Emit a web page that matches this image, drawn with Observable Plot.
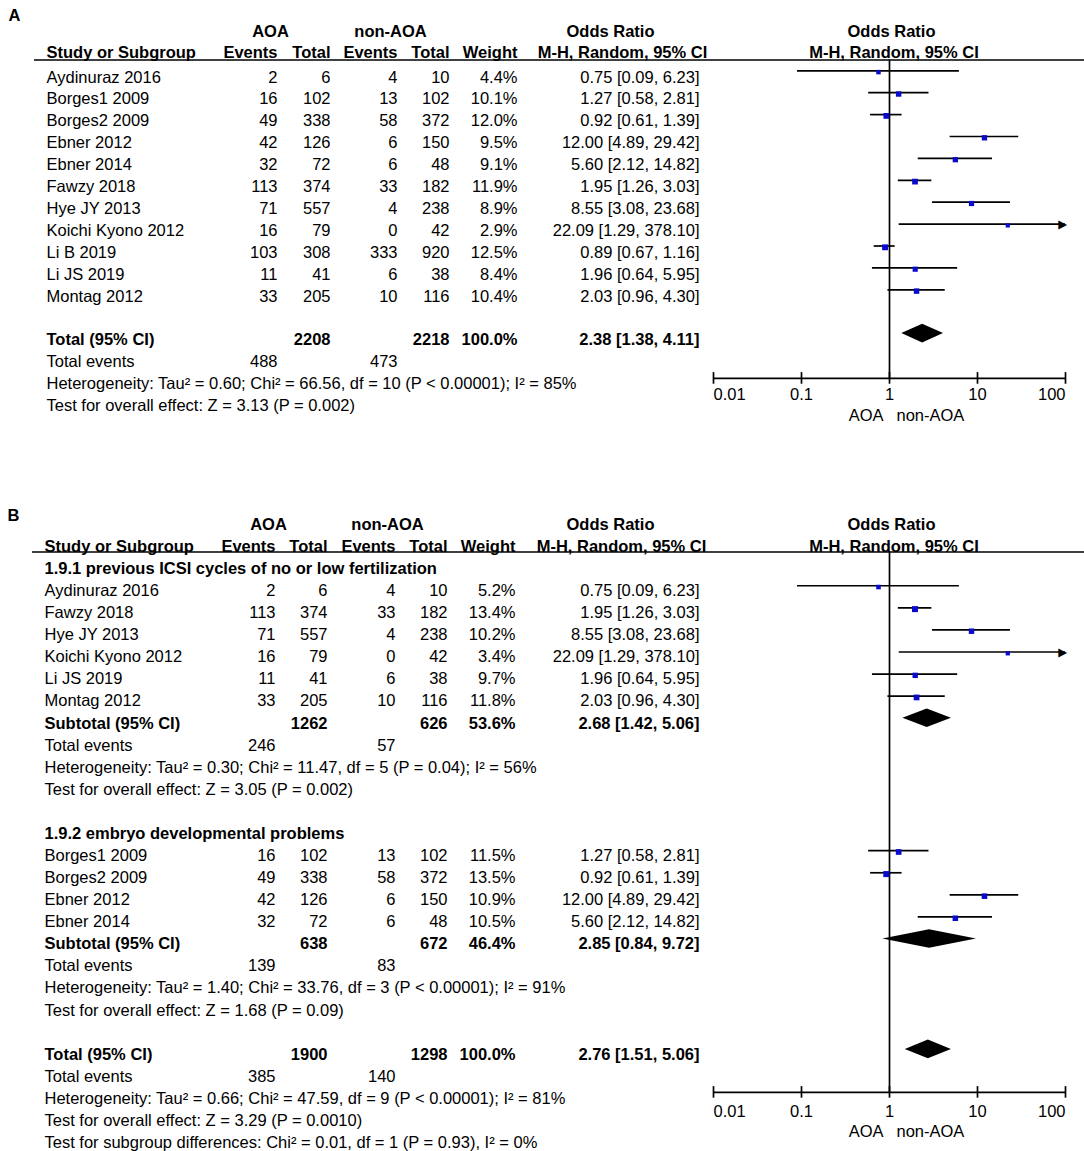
<!DOCTYPE html>
<html><head><meta charset="utf-8">
<script src="https://cdn.jsdelivr.net/npm/d3@7"></script>
<script src="https://cdn.jsdelivr.net/npm/@observablehq/plot@0.6"></script>
<style>
html,body{margin:0;padding:0;background:#fff;}
#fig{position:relative;width:1084px;height:1151px;overflow:hidden;background:#fff;}
#fig > div{position:absolute;left:0;width:1084px;}
#fig svg{position:absolute;left:0;top:0;max-width:none;}
</style></head><body>
<div id="fig"><div id="pa" style="top:0;height:492px"></div><div id="pb" style="top:492px;height:659px"></div></div>
<script>
// ================= DATA =================
// ---- Panel A ----
const panelLabels = ["A", "B"];
const studyA = ["Aydinuraz 2016","Borges1 2009","Borges2 2009","Ebner 2012","Ebner 2014","Fawzy 2018","Hye JY 2013","Koichi Kyono 2012","Li B 2019","Li JS 2019","Montag 2012"];
const eventsAOA_A = [2,16,49,42,32,113,71,16,103,11,33];
const totalAOA_A  = [6,102,338,126,72,374,557,79,308,41,205];
const eventsNon_A = [4,13,58,6,6,33,4,0,333,6,10];
const totalNon_A  = [10,102,372,150,48,182,238,42,920,38,116];
const weightA     = [4.4,10.1,12.0,9.5,9.1,11.9,8.9,2.9,12.5,8.4,10.4];
const orA         = [0.75,1.27,0.92,12.00,5.60,1.95,8.55,22.09,0.89,1.96,2.03];
const loA         = [0.09,0.58,0.61,4.89,2.12,1.26,3.08,1.29,0.67,0.64,0.96];
const hiA         = [6.23,2.81,1.39,29.42,14.82,3.03,23.68,378.10,1.16,5.95,4.30];
const totalA        = [2208, 2218];
const totalWeightA  = 100.0;
const totalOrA      = [2.38, 1.38, 4.11];
const totalEventsA  = [488, 473];
const hetA  = "Heterogeneity: Tau² = 0.60; Chi² = 66.56, df = 10 (P < 0.00001); I² = 85%";
const testA = "Test for overall effect: Z = 3.13 (P = 0.002)";

// ---- Panel B, subgroup 1.9.1 ----
const subgroupNamesB = ["1.9.1 previous ICSI cycles of no or low fertilization", "1.9.2 embryo developmental problems"];
const studyB1 = ["Aydinuraz 2016","Fawzy 2018","Hye JY 2013","Koichi Kyono 2012","Li JS 2019","Montag 2012"];
const eventsAOA_B1 = [2,113,71,16,11,33];
const totalAOA_B1  = [6,374,557,79,41,205];
const eventsNon_B1 = [4,33,4,0,6,10];
const totalNon_B1  = [10,182,238,42,38,116];
const weightB1     = [5.2,13.4,10.2,3.4,9.7,11.8];
const orB1         = [0.75,1.95,8.55,22.09,1.96,2.03];
const loB1         = [0.09,1.26,3.08,1.29,0.64,0.96];
const hiB1         = [6.23,3.03,23.68,378.10,5.95,4.30];
const subTotB1 = [1262, 626];
const subWeightB1 = 53.6;
const subOrB1 = [2.68, 1.42, 5.06];
const subEventsB1 = [246, 57];
const hetB1  = "Heterogeneity: Tau² = 0.30; Chi² = 11.47, df = 5 (P = 0.04); I² = 56%";
const testB1 = "Test for overall effect: Z = 3.05 (P = 0.002)";
// ---- Panel B, subgroup 1.9.2 ----
const studyB2 = ["Borges1 2009","Borges2 2009","Ebner 2012","Ebner 2014"];
const eventsAOA_B2 = [16,49,42,32];
const totalAOA_B2  = [102,338,126,72];
const eventsNon_B2 = [13,58,6,6];
const totalNon_B2  = [102,372,150,48];
const weightB2     = [11.5,13.5,10.9,10.5];
const orB2         = [1.27,0.92,12.00,5.60];
const loB2         = [0.58,0.61,4.89,2.12];
const hiB2         = [2.81,1.39,29.42,14.82];
const subTotB2 = [638, 672];
const subWeightB2 = 46.4;
const subOrB2 = [2.85, 0.84, 9.72];
const subEventsB2 = [139, 83];
const hetB2  = "Heterogeneity: Tau² = 1.40; Chi² = 33.76, df = 3 (P < 0.00001); I² = 91%";
const testB2 = "Test for overall effect: Z = 1.68 (P = 0.09)";
// ---- Panel B, overall ----
const totalB = [1900, 1298];
const totalWeightB = 100.0;
const totalOrB = [2.76, 1.51, 5.06];
const totalEventsB = [385, 140];
const hetB  = "Heterogeneity: Tau² = 0.66; Chi² = 47.59, df = 9 (P < 0.00001); I² = 81%";
const testB = "Test for overall effect: Z = 3.29 (P = 0.0010)";
const subgroupTestB = "Test for subgroup differences: Chi² = 0.01, df = 1 (P = 0.93), I² = 0%";

// ---- labels / axis ----
const groupHeaders = ["AOA", "non-AOA"];
const colHeaders = ["Study or Subgroup", "Events", "Total", "Events", "Total", "Weight"];
const orHeader = ["Odds Ratio", "M-H, Random, 95% CI"];
const totalLabel = "Total (95% CI)";
const subtotalLabel = "Subtotal (95% CI)";
const eventsLabel = "Total events";
const axisTicks = [0.01, 0.1, 1, 10, 100];
const favours = ["AOA", "non-AOA"];

// ================= BUILD =================
const FONT = "'Liberation Sans', Arial, Helvetica, sans-serif";
const FS = 16.5;
const orStr = (o, l, h) => `${o.toFixed(2)} [${l.toFixed(2)}, ${h.toFixed(2)}]`;

function makeStudies(names, e1, t1, e2, t2, w, o, l, h, start) {
  return names.map((name, k) => ({row: start + k, name, e1: e1[k], t1: t1[k], e2: e2[k], t2: t2[k], w: w[k], or: o[k], lo: l[k], hi: h[k]}));
}
function cell(cells, row, col, text, anchor, bold) { cells.push({row, col, text: String(text), anchor, bold}); }
function addStudyCells(cells, studies) {
  for (const s of studies) {
    cell(cells, s.row, "study", s.name, "start", false);
    cell(cells, s.row, "e1", s.e1, "end", false);
    cell(cells, s.row, "t1", s.t1, "end", false);
    cell(cells, s.row, "e2", s.e2, "end", false);
    cell(cells, s.row, "t2", s.t2, "end", false);
    cell(cells, s.row, "w", s.w.toFixed(1) + "%", "end", false);
    cell(cells, s.row, "or", orStr(s.or, s.lo, s.hi), "end", false);
  }
}
function addSummary(cells, row, label, tots, weight, orv) {
  cell(cells, row, "study", label, "start", true);
  cell(cells, row, "t1", tots[0], "end", true);
  cell(cells, row, "t2", tots[1], "end", true);
  cell(cells, row, "w", weight.toFixed(1) + "%", "end", true);
  cell(cells, row, "or", orStr(orv[0], orv[1], orv[2]), "end", true);
}
function addEvents(cells, row, ev) {
  cell(cells, row, "study", eventsLabel, "start", false);
  cell(cells, row, "e1", ev[0], "end", false);
  cell(cells, row, "e2", ev[1], "end", false);
}
function addHeaders(cells, L, label) {
  cell(cells, L.labelRow, "label", label, "middle", true);
  cell(cells, L.h1, "hAOA", groupHeaders[0], "middle", true);
  cell(cells, L.h1, "hNon", groupHeaders[1], "middle", true);
  cell(cells, L.h1, "hOR", orHeader[0], "middle", true);
  cell(cells, L.h2, "study", colHeaders[0], "start", true);
  cell(cells, L.h2, "e1", colHeaders[1], "end", true);
  cell(cells, L.h2, "t1", colHeaders[2], "end", true);
  cell(cells, L.h2, "e2", colHeaders[3], "end", true);
  cell(cells, L.h2, "t2", colHeaders[4], "end", true);
  cell(cells, L.h2, "w", colHeaders[5], "end", true);
  cell(cells, L.h2, "hMH", orHeader[1], "middle", true);
}

function render(el, cells, studies, diamonds, L) {
  const y = {type: "linear", domain: [0, 1], range: [L.y0, L.y0 + L.rowH], axis: null};
  const style = {background: "none", overflow: "visible", fontFamily: FONT, fontSize: FS + "px", color: "black"};
  const textMarks = [];
  for (const anchor of ["start", "middle", "end"]) for (const bold of [false, true]) {
    const sub = cells.filter(c => c.anchor === anchor && c.bold === bold);
    if (sub.length) textMarks.push(Plot.text(sub, {
      x: c => L.pos[c.col], y: "row", text: "text", textAnchor: anchor,
      fontWeight: bold ? "bold" : "normal", fontSize: FS, fill: "black", fontFamily: FONT
    }));
  }
  const table = Plot.plot({
    width: 1084, height: L.H, margin: 0, style,
    x: {type: "linear", domain: [0, 1084], range: [0, 1084], axis: null},
    y,
    marks: [
      Plot.ruleY([L.ruleRow], {x1: L.ruleX1, x2: 1084, stroke: "black", strokeWidth: 1.6}),
      ...textMarks
    ]
  });

  const h = 9.3 / L.rowH, tk = 5.8 / L.rowH;
  const dpts = diamonds.flatMap((d, k) => [
    {id: k, x: d.lo, y1: d.row, y2: d.row},
    {id: k, x: d.or, y1: d.row - h, y2: d.row + h},
    {id: k, x: d.hi, y1: d.row, y2: d.row}
  ]);
  const txt = {fontSize: FS, fill: "black", fontFamily: FONT};
  const forest = Plot.plot({
    width: 1084, height: L.H, margin: 0, style,
    x: {type: "log", domain: [0.01, 100], range: [713, 1065], axis: null},
    y,
    r: {type: "linear", domain: [0, 13.5], range: [2.1, 3.4]},
    marks: [
      Plot.ruleX([1], {y1: L.ruleRow, y2: L.axisRow, stroke: "black", strokeWidth: 1.7}),
      Plot.ruleY([L.axisRow], {x1: 0.01, x2: 100, stroke: "black", strokeWidth: 1.7}),
      Plot.ruleX(axisTicks, {x: d => d, y1: L.axisRow - tk, y2: L.axisRow + tk, stroke: "black", strokeWidth: 1.7}),
      Plot.text(axisTicks.slice(0, 1), {...txt, x: d => d, y: () => L.axisRow, dy: L.tickDy, text: d => String(d), textAnchor: "start"}),
      Plot.text(axisTicks.slice(1, -1), {...txt, x: d => d, y: () => L.axisRow, dy: L.tickDy, text: d => String(d), textAnchor: "middle"}),
      Plot.text(axisTicks.slice(-1), {...txt, x: d => d, y: () => L.axisRow, dy: L.tickDy, text: d => String(d), textAnchor: "end"}),
      Plot.text([favours[0]], {...txt, x: () => 1, y: () => L.axisRow, dy: L.favDy, dx: -6, text: d => d, textAnchor: "end"}),
      Plot.text([favours[1]], {...txt, x: () => 1, y: () => L.axisRow, dy: L.favDy, dx: 7, text: d => d, textAnchor: "start"}),
      Plot.text([orHeader[0]], {...txt, x: () => 1, y: () => L.h1, dx: 2, text: d => d, textAnchor: "middle", fontWeight: "bold"}),
      Plot.text([orHeader[1]], {...txt, x: () => 1, y: () => L.h2, dx: 4.5, text: d => d, textAnchor: "middle", fontWeight: "bold"}),
      Plot.ruleY(studies, {y: "row", x1: "lo", x2: d => Math.min(d.hi, 100), dy: L.ciDy, stroke: "black", strokeWidth: 1.7}),
      Plot.text(studies.filter(d => d.hi > 100), {x: () => 100, y: "row", text: () => "\u25B6", textAnchor: "end", dx: 1.5, dy: L.ciDy, fontSize: 11.5, fontFamily: "DejaVu Sans", fill: "black"}),
      Plot.dot(studies, {x: "or", y: "row", r: "w", symbol: "square", fill: "#0a0acc", stroke: "none", dy: L.sqDy}),
      Plot.areaY(dpts, {x: "x", y1: "y1", y2: "y2", z: "id", fill: "black", dy: L.dmDy})
    ]
  });
  el.appendChild(table);
  el.appendChild(forest);
}

// ---- Panel A layout & rows ----
const LA = {H: 492, y0: 33, rowH: 21.9, h1: -0.09, h2: 0.87, labelRow: -0.8, ruleRow: 1.21, ruleX1: 34,
  axisRow: 15.75, ciDy: -6.5, sqDy: -5.2, dmDy: -6.5, tickDy: 16.3, favDy: 37.3,
  pos: {label: 14, study: 46, e1: 277, t1: 330, e2: 397, t2: 449, w: 517, or: 699, hAOA: 270, hNon: 390, hOR: 610, hMH: 622}};
const cellsA = [];
addHeaders(cellsA, LA, panelLabels[0]);
const sA = makeStudies(studyA, eventsAOA_A, totalAOA_A, eventsNon_A, totalNon_A, weightA, orA, loA, hiA, 2);
addStudyCells(cellsA, sA);
addSummary(cellsA, 14, totalLabel, totalA, totalWeightA, totalOrA);
addEvents(cellsA, 15, totalEventsA);
cell(cellsA, 16, "study", hetA, "start", false);
cell(cellsA, 17, "study", testA, "start", false);
const dA = [{row: 14, or: totalOrA[0], lo: totalOrA[1], hi: totalOrA[2]}];
render(document.getElementById("pa"), cellsA, sA, dA, LA);

// ---- Panel B layout & rows ----
const LB = {H: 659, y0: 32, rowH: 22.08, h1: 0, h2: 1, labelRow: -0.41, ruleRow: 1.245, ruleX1: 32,
  axisRow: 25.72, ciDy: -5, sqDy: -3.7, dmDy: -5, tickDy: 19, favDy: 39.3,
  pos: {label: 13, study: 44, e1: 275, t1: 327, e2: 395, t2: 447, w: 515, or: 699, hAOA: 268, hNon: 387, hOR: 610, hMH: 621}};
const cellsB = [];
addHeaders(cellsB, LB, panelLabels[1]);
cell(cellsB, 2, "study", subgroupNamesB[0], "start", true);
const sB1 = makeStudies(studyB1, eventsAOA_B1, totalAOA_B1, eventsNon_B1, totalNon_B1, weightB1, orB1, loB1, hiB1, 3);
addStudyCells(cellsB, sB1);
addSummary(cellsB, 9, subtotalLabel, subTotB1, subWeightB1, subOrB1);
addEvents(cellsB, 10, subEventsB1);
cell(cellsB, 11, "study", hetB1, "start", false);
cell(cellsB, 12, "study", testB1, "start", false);
cell(cellsB, 14, "study", subgroupNamesB[1], "start", true);
const sB2 = makeStudies(studyB2, eventsAOA_B2, totalAOA_B2, eventsNon_B2, totalNon_B2, weightB2, orB2, loB2, hiB2, 15);
addStudyCells(cellsB, sB2);
addSummary(cellsB, 19, subtotalLabel, subTotB2, subWeightB2, subOrB2);
addEvents(cellsB, 20, subEventsB2);
cell(cellsB, 21, "study", hetB2, "start", false);
cell(cellsB, 22, "study", testB2, "start", false);
addSummary(cellsB, 24, totalLabel, totalB, totalWeightB, totalOrB);
addEvents(cellsB, 25, totalEventsB);
cell(cellsB, 26, "study", hetB, "start", false);
cell(cellsB, 27, "study", testB, "start", false);
cell(cellsB, 28, "study", subgroupTestB, "start", false);
const dB = [
  {row: 9, or: subOrB1[0], lo: subOrB1[1], hi: subOrB1[2]},
  {row: 19, or: subOrB2[0], lo: subOrB2[1], hi: subOrB2[2]},
  {row: 24, or: totalOrB[0], lo: totalOrB[1], hi: totalOrB[2]}
];
render(document.getElementById("pb"), cellsB, [...sB1, ...sB2], dB, LB);
</script></body></html>
